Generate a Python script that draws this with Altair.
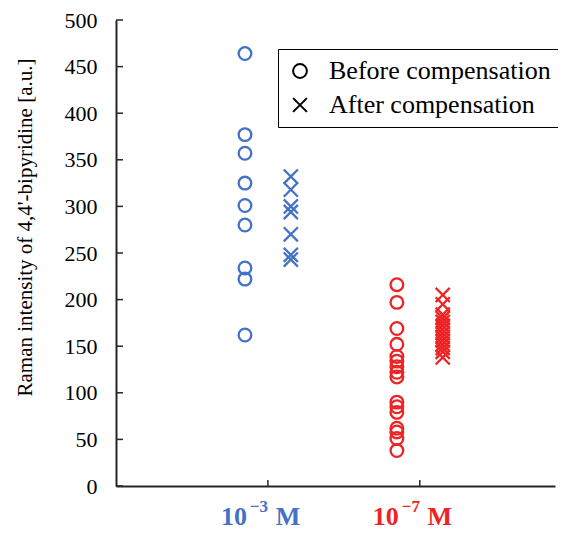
import altair as alt
import pandas as pd

# ---- data ----
conc_keys = ["1e-3", "1e-7"]
conc_index = [1, 2]
conc_colors = ["#4472C4", "#EE2424"]
label_base = ["10", "10"]
label_sup = ["\u22123", "\u22127"]
label_unit = ["M", "M"]

series_names = ["Before compensation", "After compensation"]

blue_before = [464, 377, 357, 325, 301, 280, 234, 222, 162]
blue_after = [332, 318, 300, 294, 270, 248, 243]
red_before = [216, 197, 169, 152, 139, 134, 128, 122, 117, 90, 85, 79, 62, 58, 51, 38]
red_after = [205, 195, 184, 180, 176, 172, 168, 164, 160, 156, 152, 148, 144, 138]

y_ticks = [0, 50, 100, 150, 200, 250, 300, 350, 400, 450, 500]

# ---- tables ----
rows = []
for conc, cat, vals_b, vals_a in [
    (conc_keys[0], conc_index[0], blue_before, blue_after),
    (conc_keys[1], conc_index[1], red_before, red_after),
]:
    for v in vals_b:
        rows.append({"conc": conc, "cat": cat, "series": series_names[0], "value": v})
    for v in vals_a:
        rows.append({"conc": conc, "cat": cat, "series": series_names[1], "value": v})
points_df = pd.DataFrame(rows)

labels_df = pd.DataFrame({
    "conc": conc_keys, "cat": conc_index,
    "base": label_base, "sup": label_sup, "unit": label_unit,
})
yticks_df = pd.DataFrame({"v": y_ticks})
xticks_df = pd.DataFrame({"c": conc_index})

W, H = 439, 466
SERIF = "Liberation Serif"
X_PATH = "M-1,-1L1,1M-1,1L1,-1"

xscale = alt.Scale(domain=[0, 2.89], nice=False, zero=False)
yscale = alt.Scale(domain=[0, 500], nice=False)
cscale = alt.Scale(domain=conc_keys, range=conc_colors)

points = alt.Chart(points_df).transform_calculate(
    pos="datum.cat + (datum.series == 'Before compensation' ? -0.151 : 0.151)"
).mark_point(filled=False, strokeWidth=2.3, opacity=1).encode(
    x=alt.X("pos:Q", scale=xscale,
            axis=alt.Axis(labels=False, ticks=False, title=None, grid=False,
                          domainColor="#262626", domainWidth=2)),
    y=alt.Y("value:Q", scale=yscale,
            axis=alt.Axis(values=y_ticks, grid=False, ticks=False, labelPadding=19,
                          labelFont=SERIF, labelFontSize=22, labelColor="black",
                          domainColor="#262626", domainWidth=2,
                          title="Raman intensity of 4,4'-bipyridine [a.u.]",
                          titleFont=SERIF, titleFontSize=21, titleFontWeight="normal",
                          titleColor="black", titleX=-91, titleY=207,
                          titleBaseline="middle")),
    color=alt.Color("conc:N", scale=cscale, legend=None),
    shape=alt.Shape("series:N",
                    scale=alt.Scale(domain=series_names, range=["circle", X_PATH]),
                    sort=series_names,
                    legend=alt.Legend(title=None, orient="none", legendX=162, legendY=29,
                                      strokeColor="black", fillColor="white",
                                      padding=9, labelFont=SERIF, labelFontSize=26,
                                      labelColor="black", symbolSize=190,
                                      symbolStrokeWidth=2, symbolStrokeColor="black",
                                      symbolFillColor="transparent", rowPadding=8,
                                      labelOffset=16, labelLimit=400)),
    size=alt.condition("datum.series == 'Before compensation'", alt.value(160), alt.value(200)),
)

ytick_rules = alt.Chart(yticks_df).mark_rule(color="#262626", strokeWidth=1.5).encode(
    y=alt.Y("v:Q", scale=yscale), x=alt.value(0), x2=alt.value(7)
)
xtick_rules = alt.Chart(xticks_df).mark_rule(color="#262626", strokeWidth=1.5).encode(
    x=alt.X("c:Q", scale=xscale), y=alt.value(H), y2=alt.value(H - 6)
)

base_txt = alt.Chart(labels_df).mark_text(
    font=SERIF, fontSize=26, fontWeight="bold", baseline="alphabetic", dx=-34
).encode(
    x=alt.X("cat:Q", scale=xscale), y=alt.value(H + 39), text="base:N",
    color=alt.Color("conc:N", scale=cscale, legend=None),
)
sup_txt = alt.Chart(labels_df).mark_text(
    font=SERIF, fontSize=17, fontWeight="bold", baseline="alphabetic", dx=-9
).encode(
    x=alt.X("cat:Q", scale=xscale), y=alt.value(H + 26), text="sup:N",
    color=alt.Color("conc:N", scale=cscale, legend=None),
)
unit_txt = alt.Chart(labels_df).mark_text(
    font=SERIF, fontSize=26, fontWeight="bold", baseline="alphabetic", dx=20
).encode(
    x=alt.X("cat:Q", scale=xscale), y=alt.value(H + 39), text="unit:N",
    color=alt.Color("conc:N", scale=cscale, legend=None),
)

chart = alt.layer(points, ytick_rules, xtick_rules, base_txt, sup_txt, unit_txt).properties(
    width=W, height=H,
    autosize=alt.AutoSizeParams(type="none"),
    padding={"left": 108, "top": 12, "right": 3, "bottom": 45},
    background="white",
).configure_view(stroke=None)

chart.save("out.html", embed_options={"renderer": "svg", "actions": False})
